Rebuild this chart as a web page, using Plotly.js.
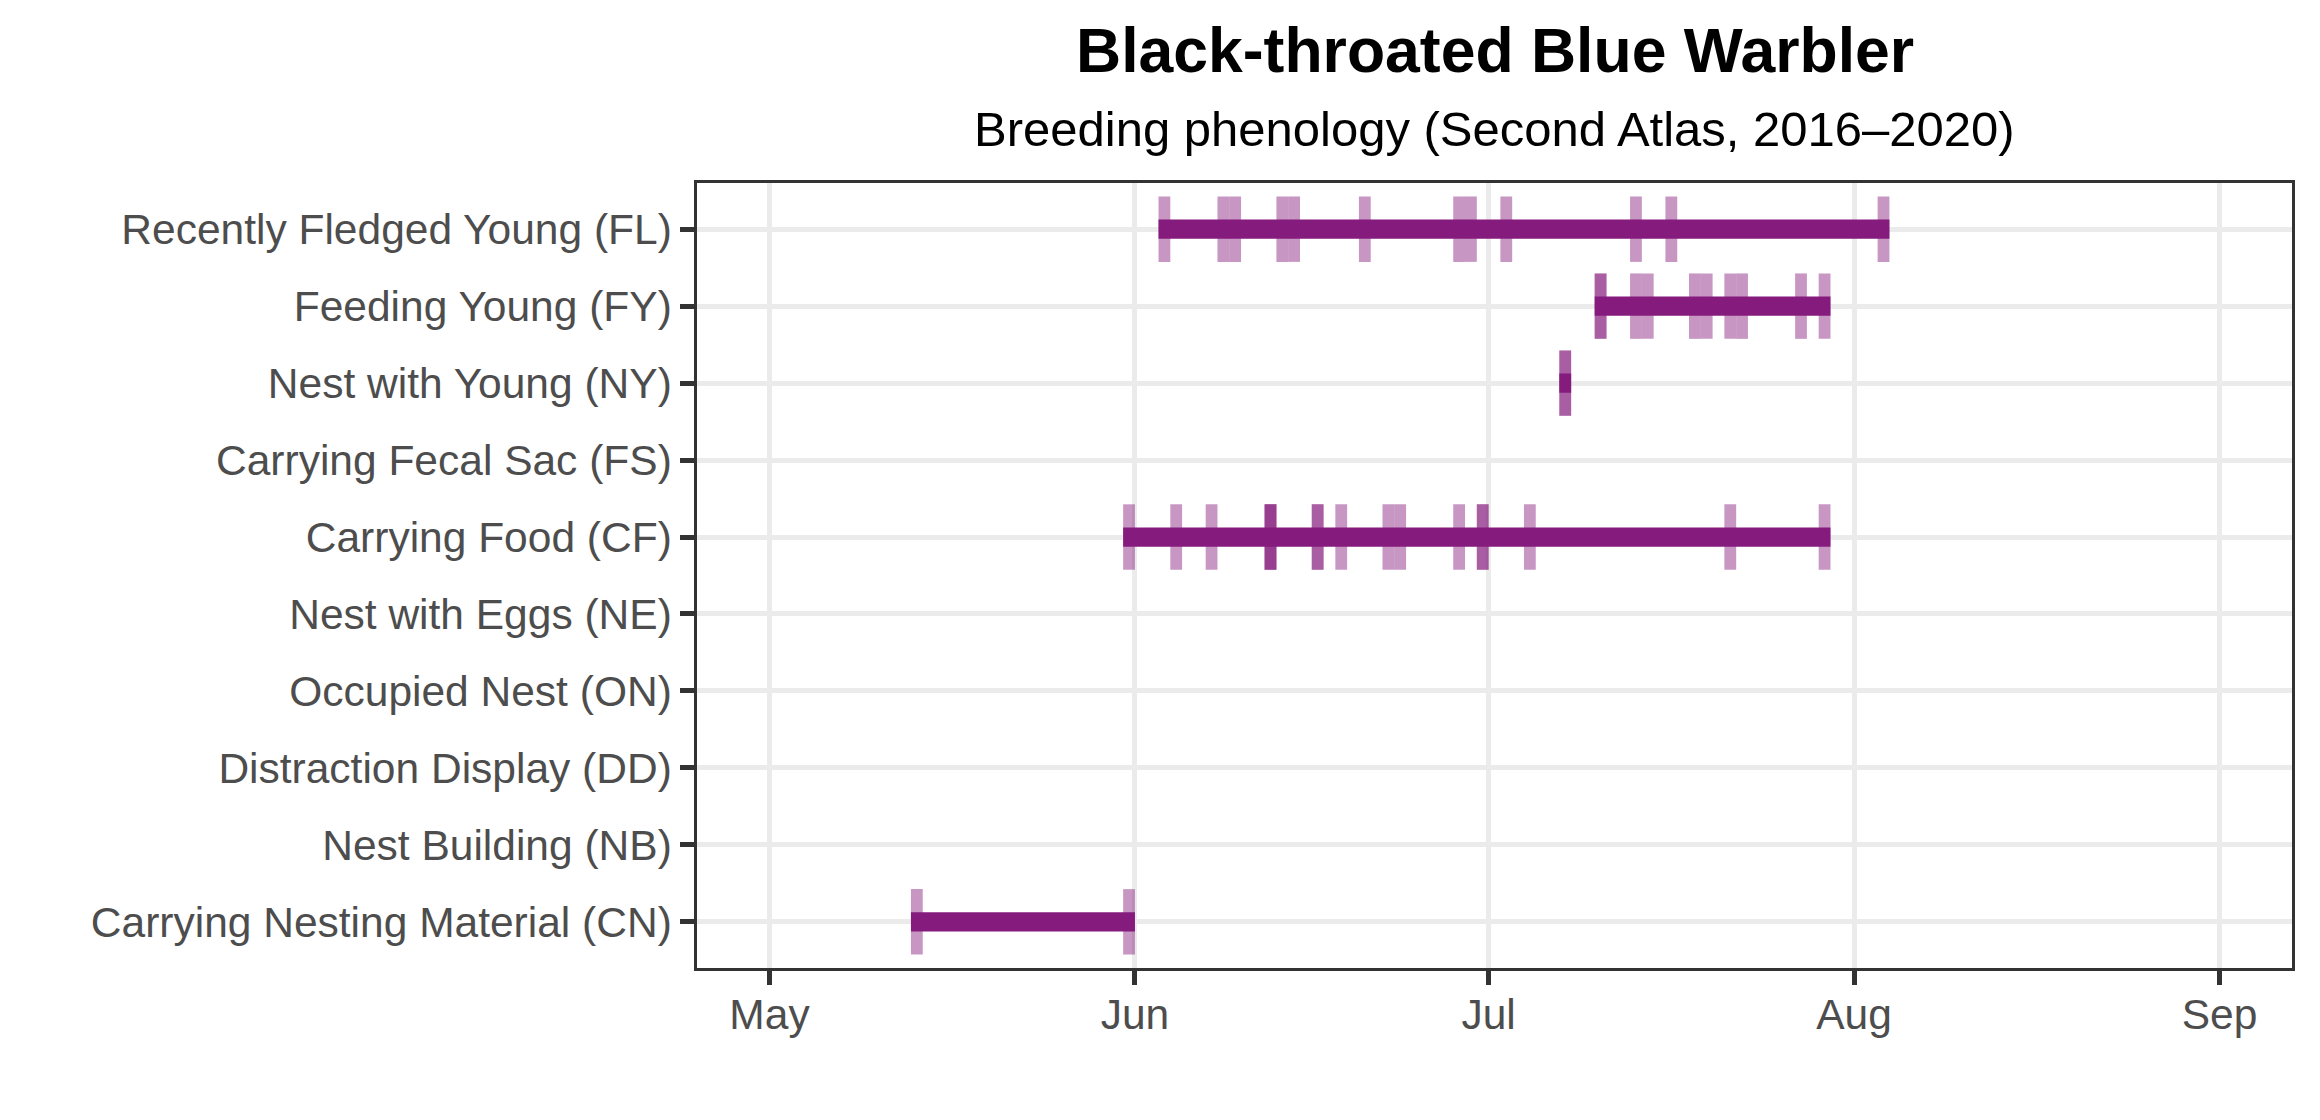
<!DOCTYPE html>
<html>
<head>
<meta charset="utf-8">
<script src="https://cdn.plot.ly/plotly-3.0.1.min.js"></script>
<style>html,body{margin:0;padding:0;background:#fff;}#chart{width:2320px;height:1120px;}</style>
</head>
<body>
<div id="chart"></div>
<script>
// Categories, bottom to top
const categories = [
  'Carrying Nesting Material (CN)',
  'Nest Building (NB)',
  'Distraction Display (DD)',
  'Occupied Nest (ON)',
  'Nest with Eggs (NE)',
  'Carrying Food (CF)',
  'Carrying Fecal Sac (FS)',
  'Nest with Young (NY)',
  'Feeding Young (FY)',
  'Recently Fledged Young (FL)'
];

// Observation dates per breeding code (repeated dates = multiple records that day)
const obsCN = ['2020-05-13', '2020-05-31'];
const obsNB = [];
const obsDD = [];
const obsON = [];
const obsNE = [];
const obsCF = ['2020-05-31', '2020-06-04', '2020-06-07', '2020-06-12', '2020-06-12', '2020-06-12',
               '2020-06-16', '2020-06-16', '2020-06-18', '2020-06-22', '2020-06-23', '2020-06-28',
               '2020-06-30', '2020-06-30', '2020-07-04', '2020-07-21', '2020-07-29'];
const obsFS = [];
const obsNY = ['2020-07-07', '2020-07-07'];
const obsFY = ['2020-07-10', '2020-07-10', '2020-07-13', '2020-07-14', '2020-07-18', '2020-07-19',
               '2020-07-21', '2020-07-22', '2020-07-27', '2020-07-29'];
const obsFL = ['2020-06-03', '2020-06-08', '2020-06-09', '2020-06-13', '2020-06-14', '2020-06-20',
               '2020-06-28', '2020-06-29', '2020-07-02', '2020-07-13', '2020-07-16', '2020-08-03'];

const observations = [obsCN, obsNB, obsDD, obsON, obsNE, obsCF, obsFS, obsNY, obsFY, obsFL];

// Axis limits and month ticks
const xLimits = ['2020-05-01', '2020-09-01'];
const monthTicks = ['2020-05-01', '2020-06-01', '2020-07-01', '2020-08-01', '2020-09-01'];
const monthLabels = ['May', 'Jun', 'Jul', 'Aug', 'Sep'];

const titleText = '<b>Black-throated Blue Warbler</b>';
const subtitleText = 'Breeding phenology (Second Atlas, 2016–2020)';

const DAY = 86400000;
const purple = '#841B7D';

// Per-record ticks
const tickY = [], tickBase = [], tickLen = [];
observations.forEach((arr, i) => {
  arr.forEach(d => { tickY.push(categories[i]); tickBase.push(d); tickLen.push(DAY); });
});

// Span bars from first to last record
const spanY = [], spanBase = [], spanLen = [];
observations.forEach((arr, i) => {
  if (!arr.length) return;
  const t = arr.map(d => Date.parse(d + 'T00:00:00Z'));
  const lo = Math.min(...t), hi = Math.max(...t);
  spanY.push(categories[i]);
  spanBase.push(new Date(lo).toISOString().slice(0, 10));
  spanLen.push(hi - lo + DAY);
});

function iso(ms) { return new Date(ms).toISOString().replace('T', ' ').slice(0, 19); }
const lo = Date.parse(xLimits[0] + 'T00:00:00Z'), hi = Date.parse(xLimits[1] + 'T00:00:00Z');
const pad = (hi - lo) * 0.05;
const xRange = [iso(lo - pad), iso(hi + pad)];

const traces = [
  {
    type: 'bar', orientation: 'h', y: tickY, base: tickBase, x: tickLen,
    width: 0.85, marker: { color: purple, opacity: 0.46, line: { width: 0 } },
    hoverinfo: 'skip', showlegend: false
  },
  {
    type: 'bar', orientation: 'h', y: spanY, base: spanBase, x: spanLen,
    width: 0.25, marker: { color: purple, line: { width: 0 } },
    hoverinfo: 'skip', showlegend: false
  }
];

const font = 'Liberation Sans, Arial, Helvetica, sans-serif';
const axisFontSize = 42.5;

const layout = {
  width: 2320, height: 1120,
  margin: { l: 697, r: 28, t: 183, b: 152, pad: 0 },
  paper_bgcolor: '#ffffff', plot_bgcolor: '#ffffff',
  barmode: 'overlay',
  showlegend: false,
  font: { family: font, color: '#4D4D4D', size: axisFontSize },
  xaxis: {
    type: 'date', range: xRange, autorange: false,
    tickmode: 'array', tickvals: monthTicks, ticktext: monthLabels,
    showgrid: true, gridcolor: '#EBEBEB', gridwidth: 5,
    zeroline: false,
    showline: true, linecolor: '#333333', linewidth: 2.7, mirror: true,
    ticks: 'outside', ticklen: 14, tickwidth: 5, tickcolor: '#333333',
    ticklabelstandoff: -7,
    tickfont: { family: font, size: axisFontSize, color: '#4D4D4D' },
    automargin: false
  },
  yaxis: {
    type: 'category', categoryorder: 'array', categoryarray: categories,
    range: [-0.6, 9.6], autorange: false,
    showgrid: true, gridcolor: '#EBEBEB', gridwidth: 5,
    zeroline: false,
    showline: true, linecolor: '#333333', linewidth: 2.7, mirror: true,
    ticks: 'outside', ticklen: 14, tickwidth: 5, tickcolor: '#333333',
    tickfont: { family: font, size: axisFontSize, color: '#4D4D4D' },
    automargin: false
  },
  annotations: [
    { text: titleText, xref: 'paper', yref: 'paper', x: 0.5, y: 1.1694, xanchor: 'center', yanchor: 'middle',
      showarrow: false, font: { family: font, size: 62.5, color: '#000000' } },
    { text: subtitleText, xref: 'paper', yref: 'paper', x: 0.5, y: 1.0694, xanchor: 'center', yanchor: 'middle',
      showarrow: false, font: { family: font, size: 49, color: '#000000' } }
  ]
};

Plotly.newPlot('chart', traces, layout, { staticPlot: true, displayModeBar: false });
</script>
</body>
</html>
